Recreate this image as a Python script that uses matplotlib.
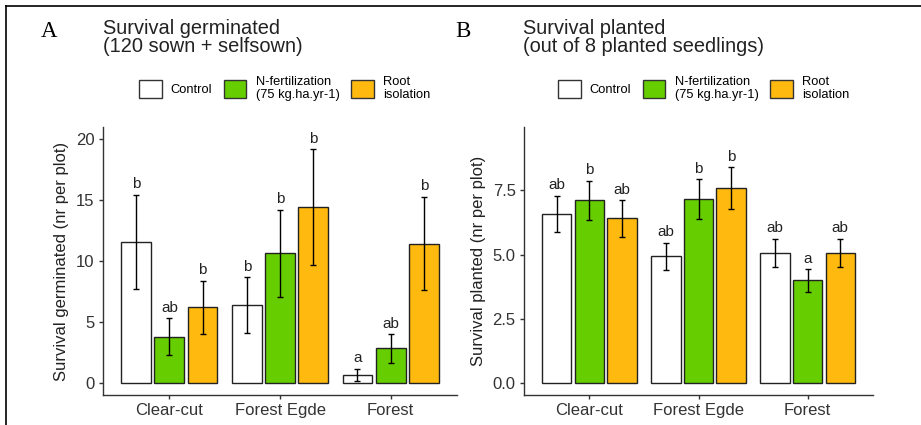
# survival bar charts, germinated vs planted seedlings

import matplotlib
matplotlib.use("Agg")
import matplotlib.pyplot as plt
from matplotlib.patches import Patch
import numpy as np

plt.rcParams['font.family'] = ['Liberation Sans', 'DejaVu Sans']

sites = ["Clear-cut", "Forest Egde", "Forest"]
treatments = ["Control", "N-fertilization\n(75 kg.ha.yr-1)", "Root\nisolation"]
colours = ['#FFFFFF', '#66CD00', '#FFB90F']

# panel A: survival germinated (mean, se, letters)
germ_control = [11.56, 6.39, 0.64]
germ_nfert = [3.80, 10.62, 2.82]
germ_root = [6.20, 14.42, 11.42]
germ_control_se = [3.89, 2.29, 0.51]
germ_nfert_se = [1.49, 3.58, 1.18]
germ_root_se = [2.18, 4.75, 3.84]
germ_control_let = ["b", "b", "a"]
germ_nfert_let = ["ab", "b", "ab"]
germ_root_let = ["b", "b", "b"]

# panel B: survival planted
plant_control = [6.58, 4.93, 5.07]
plant_nfert = [7.11, 7.16, 3.99]
plant_root = [6.41, 7.59, 5.07]
plant_control_se = [0.71, 0.525, 0.545]
plant_nfert_se = [0.77, 0.775, 0.435]
plant_root_se = [0.705, 0.815, 0.545]
plant_control_let = ["ab", "ab", "ab"]
plant_nfert_let = ["b", "b", "a"]
plant_root_let = ["ab", "b", "ab"]

W, H = 921, 425


def draw_panel(ax, means, ses, letters, ylabel, ylim, yticks, yticklabels):
  x = np.arange(1, len(sites) + 1)
  for j in range(len(means)):
    pos = x + (j - 1) * 0.3
    ax.bar(pos, means[j], width=0.27, color=colours[j], edgecolor='#222222', linewidth=1.0, zorder=2)
    ax.errorbar(pos, means[j], yerr=ses[j], fmt='none', ecolor='black', elinewidth=1.0,
                capsize=2, capthick=1.0, zorder=3)
    for k in range(len(pos)):
      ax.annotate(letters[j][k], (pos[k], means[j][k] + ses[j][k]), xytext=(0, 2.5),
                  textcoords='offset points', ha='center', va='bottom', fontsize=11, color='#222222')

  ax.set_xlim(0.4, 3.6)
  ax.set_ylim(*ylim)
  ax.set_xticks(x)
  ax.set_xticklabels(sites, fontsize=12, color='#333333')
  ax.set_yticks(yticks)
  ax.set_yticklabels(yticklabels, fontsize=12, color='#333333')
  ax.set_ylabel(ylabel, fontsize=12, color='#222222', labelpad=5)
  for side in ['top', 'right']:
    ax.spines[side].set_visible(False)
  for side in ['left', 'bottom']:
    ax.spines[side].set_color('#333333')
    ax.spines[side].set_linewidth(1.0)
  ax.tick_params(length=3, width=1.0, color='#333333', pad=3)


def main():
  fig = plt.figure(figsize=(W / 100, H / 100), dpi=100)

  ax1 = fig.add_axes([103 / W, 1 - 395 / H, 354 / W, 268 / H])
  ax2 = fig.add_axes([524 / W, 1 - 395 / H, 349 / W, 268 / H])

  draw_panel(ax1, [germ_control, germ_nfert, germ_root],
             [germ_control_se, germ_nfert_se, germ_root_se],
             [germ_control_let, germ_nfert_let, germ_root_let],
             'Survival germinated (nr per plot)', (-1, 21),
             [0, 5, 10, 15, 20], ['0', '5', '10', '15', '20'])
  draw_panel(ax2, [plant_control, plant_nfert, plant_root],
             [plant_control_se, plant_nfert_se, plant_root_se],
             [plant_control_let, plant_nfert_let, plant_root_let],
             'Survival planted (nr per plot)', (-0.475, 9.975),
             [0, 2.5, 5, 7.5], ['0.0', '2.5', '5.0', '7.5'])

  # panel letters and titles
  fig.text(40.5 / W, 1 - 37 / H, 'A', fontsize=16.5, family='Liberation Serif', va='baseline')
  fig.text(455.5 / W, 1 - 37 / H, 'B', fontsize=16.5, family='Liberation Serif', va='baseline')
  fig.text(103 / W, 1 - 34.5 / H, 'Survival germinated', fontsize=14.4, va='baseline', color='#222222')
  fig.text(103 / W, 1 - 52.5 / H, '(120 sown + selfsown)', fontsize=14.4, va='baseline', color='#222222')
  fig.text(523 / W, 1 - 34.5 / H, 'Survival planted', fontsize=14.4, va='baseline', color='#222222')
  fig.text(523 / W, 1 - 52.5 / H, '(out of 8 planted seedlings)', fontsize=14.4, va='baseline', color='#222222')

  # legends
  handles = [Patch(facecolor=c, edgecolor='#333333', linewidth=1.0) for c in colours]
  for cx in [284.5, 703.5]:
    fig.legend(handles, treatments, loc='center', bbox_to_anchor=(cx / W, 1 - 88.5 / H),
               ncol=3, frameon=False, fontsize=9.3, handlelength=1.75, handleheight=1.75,
               handletextpad=0.7, columnspacing=0.9, borderpad=0, labelspacing=0)

  # frame around the figure (left and top edges only)
  fig.add_artist(plt.Line2D([6 / W, 6 / W], [0, 1 - 6 / H], color='black', linewidth=1.2))
  fig.add_artist(plt.Line2D([6 / W, 1], [1 - 6 / H, 1 - 6 / H], color='black', linewidth=1.2))

  plt.savefig('out.png', dpi=100)


if __name__ == "__main__":
  main()
